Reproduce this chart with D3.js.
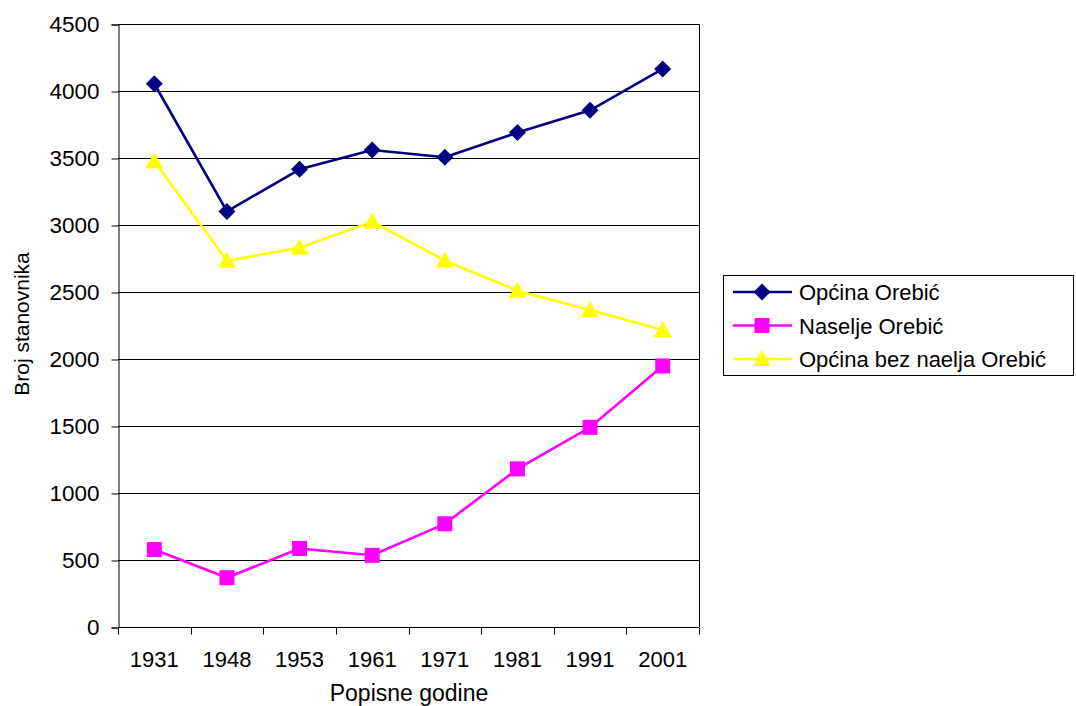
<!DOCTYPE html>
<html>
<head>
<meta charset="utf-8">
<script src="https://cdn.jsdelivr.net/npm/d3@7"></script>
<style>
  html, body { margin: 0; padding: 0; background: #fff; }
  svg { display: block; }
  text { font-family: "Liberation Sans", Arial, sans-serif; fill: #000; }
</style>
</head>
<body>
<svg id="chart" width="1076" height="706"></svg>
<script>
const years = ["1931", "1948", "1953", "1961", "1971", "1981", "1991", "2001"];
const opcina = [4054, 3101, 3416, 3560, 3505, 3690, 3856, 4165];
const naselje = [578, 368, 586, 535, 770, 1180, 1490, 1948];
const bezNaselja = [3476, 2733, 2830, 3025, 2735, 2510, 2366, 2217];
const yTicks = [0, 500, 1000, 1500, 2000, 2500, 3000, 3500, 4000, 4500];
const seriesNames = ["Općina Orebić", "Naselje Orebić", "Općina bez naelja Orebić"];

(function () {
const series = [
  { name: seriesNames[0], values: opcina, color: "#000080", marker: "diamond" },
  { name: seriesNames[1], values: naselje, color: "#FF00FF", marker: "square" },
  { name: seriesNames[2], values: bezNaselja, color: "#FFFF00", marker: "triangle" }
];

const svg = d3.select("#chart");
const pL = 118, pR = 699, pT = 24, pB = 627;

const x = d3.scaleBand().domain(years).range([pL, pR]).padding(0);
const y = d3.scaleLinear().domain([0, 4500]).range([pB, pT]);

// gridlines
svg.append("g").selectAll("line").data(yTicks.filter(d => d > 0)).join("line")
  .attr("x1", pL).attr("x2", pR)
  .attr("y1", d => Math.round(y(d)) + 0.5).attr("y2", d => Math.round(y(d)) + 0.5)
  .attr("stroke", "#000").attr("stroke-width", 1);

// plot frame top & right
svg.append("path")
  .attr("d", `M${pL},${pT + 0.5}H${pR + 0.5}V${pB}`)
  .attr("fill", "none").attr("stroke", "#000").attr("stroke-width", 1);

// Y axis
const yAxis = d3.axisLeft(y).tickValues(yTicks).tickSize(7).tickPadding(12).tickFormat(d3.format("d"));
const gy = svg.append("g").attr("transform", `translate(${pL + 0.5},0.5)`).call(yAxis);
gy.select(".domain").attr("stroke", "#000");
gy.selectAll(".tick line").attr("stroke", "#000");
gy.selectAll("text").style("font-size", "22.5px").style("font-family", "Liberation Sans, Arial, sans-serif").attr("fill", "#000");

// X axis
const gx = svg.append("g").attr("transform", `translate(0,${pB + 0.5})`);
gx.append("line").attr("x1", pL).attr("x2", pR).attr("y1", 0).attr("y2", 0)
  .attr("stroke", "#000");
const boundaries = years.map(d => x(d)).concat([x(years[years.length - 1]) + x.bandwidth()]);
gx.selectAll("line.tk").data(boundaries).join("line").attr("class", "tk")
  .attr("x1", d => Math.round(d) + 0.5).attr("x2", d => Math.round(d) + 0.5).attr("y1", 0).attr("y2", 7)
  .attr("stroke", "#000");
gx.selectAll("text").data(years).join("text")
  .attr("x", d => x(d) + x.bandwidth() / 2).attr("y", 39)
  .attr("text-anchor", "middle").style("font-size", "22px").text(d => d);

// Axis titles
svg.append("text").attr("x", 409).attr("y", 701).attr("text-anchor", "middle")
  .style("font-size", "23px").text("Popisne godine");
svg.append("text").attr("transform", `translate(29,324) rotate(-90)`)
  .attr("text-anchor", "middle").style("font-size", "21px").text("Broj stanovnika");

// markers
function drawMarker(g, type, color) {
  if (type === "diamond") {
    g.append("path").attr("d", "M0,-8.5L8.5,0L0,8.5L-8.5,0Z").attr("fill", color);
  } else if (type === "square") {
    g.append("rect").attr("x", -7.5).attr("y", -7.5).attr("width", 15).attr("height", 15).attr("fill", color);
  } else {
    g.append("path").attr("d", "M0,-9L9,7L-9,7Z").attr("fill", color);
  }
}

const line = d3.line().x((d, i) => x(years[i]) + x.bandwidth() / 2).y(d => y(d));

series.forEach(s => {
  svg.append("path").datum(s.values).attr("d", line)
    .attr("fill", "none").attr("stroke", s.color).attr("stroke-width", 2.6)
    .attr("stroke-linejoin", "round");
  s.values.forEach((v, i) => {
    const g = svg.append("g").attr("transform", `translate(${x(years[i]) + x.bandwidth() / 2},${y(v)})`);
    drawMarker(g, s.marker, s.color);
  });
});

// Legend
const lg = svg.append("g");
lg.append("rect").attr("x", 723.5).attr("y", 275.5).attr("width", 350).attr("height", 100)
  .attr("fill", "#fff").attr("stroke", "#000").attr("stroke-width", 1);
series.forEach((s, i) => {
  const cy = 292 + i * 33.5;
  lg.append("line").attr("x1", 733).attr("x2", 792).attr("y1", cy).attr("y2", cy)
    .attr("stroke", s.color).attr("stroke-width", 2.6);
  const g = lg.append("g").attr("transform", `translate(762,${cy})`);
  drawMarker(g, s.marker, s.color);
  lg.append("text").attr("x", 799).attr("y", cy + 8).style("font-size", "22px").text(s.name);
});
})();
</script>
</body>
</html>
